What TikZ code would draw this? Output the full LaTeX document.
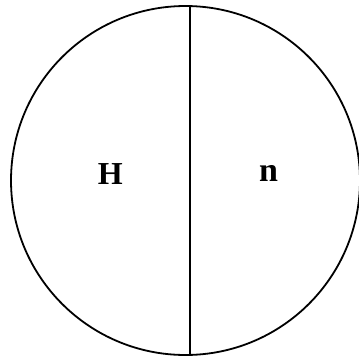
\documentclass[tikz,border=0pt]{standalone}
\usepackage{fontspec}
\setmainfont{Liberation Serif}
\begin{document}
\begin{tikzpicture}[x=1pt,y=1pt,
  lbl/.style={font=\bfseries, inner sep=0pt, anchor=base}]
\useasboundingbox (0,0) rectangle (359,-360);
\node[draw, circle, line width=1.8pt, minimum size=349pt, inner sep=0pt] (c) at (185.5,-180.5) {};
\coordinate (t) at (190,-6.1);
\coordinate (b) at (190,-354.9);
\draw[line width=1.8pt] (t) -- (b);
\node[lbl, font=\fontsize{32}{38}\selectfont\bfseries] (h) at (110.3,-184.3) {H};
\node[lbl, font=\fontsize{34}{40}\selectfont\bfseries] (n) at (268.5,-181) {n};
\end{tikzpicture}
\end{document}
